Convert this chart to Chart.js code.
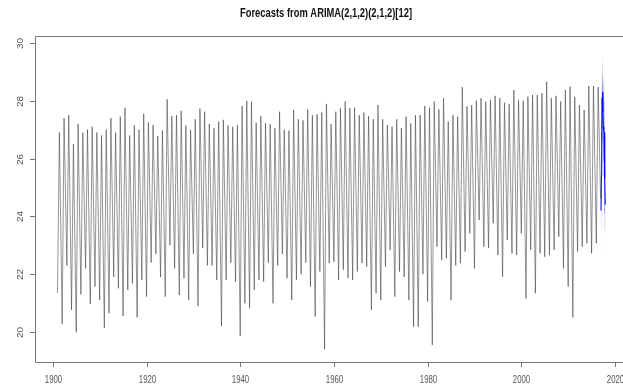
<!DOCTYPE html>
<html>
<head>
<meta charset="utf-8">
<script src="https://cdn.jsdelivr.net/npm/chart.js@4.4.1/dist/chart.umd.min.js"></script>
<style>
  html, body { margin: 0; padding: 0; background: #fff; }
  canvas { display: block; }
</style>
</head>
<body>
<canvas id="arimaCanvas" width="623" height="385"></canvas>
<script>
// --- data ---
const chartTitle = 'Forecasts from ARIMA(2,1,2)(2,1,2)[12]';
const firstYear = 1901;

// yearly high (around May) of the monthly series, 1901-2016
const yearPeaks = [
  26.9, 27.4, 27.5, 26.5, 27.2, 26.9, 27.0, 27.1, 26.9, 26.8, 27.0, 27.4, 26.9, 27.45, 27.75, 26.8, 27.15, 27.0, 27.55, 27.25,
  27.16, 26.78, 26.97, 28.05, 27.47, 27.5, 27.65, 27.14, 26.99, 27.36, 27.73, 27.62, 27.2, 27.05, 27.28, 27.34, 27.14, 27.1, 27.15, 27.82,
  27.99, 27.97, 27.24, 27.47, 27.22, 27.19, 27.05, 27.62, 27.0, 26.97, 27.68, 27.36, 27.32, 27.7, 27.5, 27.53, 27.59, 27.89, 27.19, 27.62,
  27.74, 27.97, 27.74, 27.76, 27.5, 27.59, 27.47, 27.36, 27.85, 27.36, 27.16, 27.1, 27.36, 27.05, 27.45, 27.22, 27.5, 27.5, 27.82, 27.76,
  27.97, 27.7, 28.09, 27.28, 27.5, 27.45, 28.47, 27.8, 27.85, 28.0, 28.09, 27.97, 28.03, 28.17, 28.09, 27.93, 27.89, 28.37, 28.03, 28.0,
  28.14, 28.2, 28.2, 28.26, 28.66, 28.09, 28.17, 27.97, 28.37, 28.49, 28.14, 27.85, 27.68, 28.51, 28.51, 28.47
];

// yearly low (January) of the monthly series, 1901-2016
const yearTroughs = [
  21.35, 20.28, 22.3, 20.76, 19.99, 21.3, 22.2, 20.97, 21.57, 21.1, 20.14, 20.65, 21.9, 21.51, 20.55, 21.45, 21.68, 20.5, 21.8, 21.22,
  22.4, 22.7, 21.9, 21.22, 23.0, 22.2, 21.28, 21.86, 21.1, 22.7, 20.9, 22.9, 22.3, 22.3, 21.8, 20.2, 21.8, 22.4, 21.74, 19.86,
  20.99, 20.82, 21.45, 21.8, 21.74, 22.4, 20.99, 22.3, 22.7, 21.86, 21.1, 21.8, 22.0, 22.4, 21.57, 20.53, 22.09, 19.41, 22.38, 22.43,
  21.8, 22.15, 21.86, 21.8, 22.09, 22.38, 22.26, 20.76, 21.34, 21.1, 22.26, 22.84, 21.22, 22.09, 21.9, 21.1, 20.18, 20.18, 22.0, 21.05,
  19.55, 22.95, 22.49, 22.55, 21.1, 22.3, 22.38, 22.78, 23.41, 22.2, 23.87, 22.95, 22.9, 23.76, 22.66, 21.91, 23.18, 22.72, 22.66, 23.41,
  21.16, 22.84, 21.34, 22.72, 22.6, 22.66, 22.84, 23.3, 22.2, 21.57, 20.5, 22.78, 22.95, 23.07, 22.72, 23.07
];
const lastObserved = 24.6; // Dec 2016

// 12-month forecast, Jan-Dec 2017
const forecastMean = [24.2, 25.4, 27.0, 28.1, 28.3, 27.6, 27.1, 27.0, 26.9, 26.4, 25.3, 24.4];
const forecastHi80 = [24.9, 26.2, 27.8, 29.0, 29.3, 28.6, 28.1, 28.1, 28.0, 27.5, 26.5, 25.6];
const forecastLo80 = [23.5, 24.6, 26.2, 27.2, 27.3, 26.6, 26.1, 25.9, 25.8, 25.3, 24.1, 23.2];
const forecastHi95 = [25.3, 26.6, 28.3, 29.5, 29.8, 29.2, 28.7, 28.6, 28.6, 28.1, 27.1, 26.2];
const forecastLo95 = [22.3, 24.2, 25.7, 26.7, 26.8, 26.0, 25.5, 25.4, 25.2, 24.7, 23.5, 22.6];

const xTicks = [1900, 1920, 1940, 1960, 1980, 2000, 2020];
const yTicks = [20, 22, 24, 26, 28, 30];

// --- build point lists ---
const peakOffset = 0.4; // peak month sits ~May
const observed = [];
yearPeaks.forEach((p, i) => {
  const yr = firstYear + i;
  observed.push({ x: yr, y: yearTroughs[i] });
  observed.push({ x: yr + peakOffset, y: p });
});
observed.push({ x: 2016 + 11 / 12, y: lastObserved });

const monthly = arr => arr.map((v, m) => ({ x: 2017 + m / 12, y: v }));

// R-style axes, box and title drawn on top
const rStylePlot = {
  id: 'rStylePlot',
  afterDraw(chart) {
    const { ctx, chartArea: a, scales: { x, y } } = chart;
    ctx.save();
    ctx.strokeStyle = '#777';
    ctx.lineWidth = 1;

    // box: right edge lies outside the picture
    ctx.beginPath();
    ctx.moveTo(chart.width, a.top + 0.5);
    ctx.lineTo(a.left + 0.5, a.top + 0.5);
    ctx.lineTo(a.left + 0.5, a.bottom + 0.5);
    ctx.lineTo(chart.width, a.bottom + 0.5);
    ctx.stroke();

    // x ticks + labels
    ctx.fillStyle = '#555';
    ctx.font = '10px "Liberation Sans", Arial, sans-serif';
    ctx.textAlign = 'center';
    ctx.textBaseline = 'middle';
    xTicks.forEach(t => {
      const px = Math.round(x.getPixelForValue(t)) + 0.5;
      ctx.beginPath();
      ctx.moveTo(px, a.bottom);
      ctx.lineTo(px, a.bottom + 5);
      ctx.stroke();
      ctx.save();
      ctx.translate(px, a.bottom + 18);
      ctx.scale(0.78, 1);
      ctx.fillText(String(t), 0, 0);
      ctx.restore();
    });

    // y ticks + rotated labels
    yTicks.forEach(t => {
      const py = Math.round(y.getPixelForValue(t)) + 0.5;
      ctx.beginPath();
      ctx.moveTo(a.left, py);
      ctx.lineTo(a.left - 5, py);
      ctx.stroke();
      ctx.save();
      ctx.translate(a.left - 14, py);
      ctx.rotate(-Math.PI / 2);
      ctx.scale(1, 0.85);
      ctx.fillText(String(t), 0, 0);
      ctx.restore();
    });

    // title
    ctx.fillStyle = '#111';
    ctx.font = 'bold 12px "Liberation Sans", Arial, sans-serif';
    ctx.save();
    ctx.translate(326, 14);
    const w = ctx.measureText(chartTitle).width;
    ctx.scale(172 / w, 1);
    ctx.fillText(chartTitle, 0, 0);
    ctx.restore();

    ctx.restore();
  }
};

const ctx = document.getElementById('arimaCanvas').getContext('2d');
new Chart(ctx, {
  type: 'line',
  data: {
    datasets: [
      { label: 'observed', data: observed, borderColor: '#3a3a3a', borderWidth: 0.55, fill: false },
      { label: 'forecast', data: monthly(forecastMean), borderColor: '#0000ff', borderWidth: 1, fill: false },
      { label: 'hi80', data: monthly(forecastHi80), borderWidth: 0, backgroundColor: '#8e97d6', fill: 3 },
      { label: 'lo80', data: monthly(forecastLo80), borderWidth: 0, fill: false },
      { label: 'hi95', data: monthly(forecastHi95), borderWidth: 0, backgroundColor: '#d4d8ee', fill: 5 },
      { label: 'lo95', data: monthly(forecastLo95), borderWidth: 0, fill: false }
    ]
  },
  options: {
    responsive: false,
    animation: false,
    devicePixelRatio: 1,
    layout: { padding: { left: 35, top: 36, right: 0, bottom: 23 } },
    elements: { point: { radius: 0 }, line: { tension: 0 } },
    plugins: {
      legend: { display: false },
      tooltip: { enabled: false },
      filler: { drawTime: 'beforeDatasetsDraw' }
    },
    scales: {
      x: { type: 'linear', min: 1896.2, max: 2021.7, display: false },
      y: { type: 'linear', min: 18.96, max: 30.24, display: false }
    }
  },
  plugins: [rStylePlot]
});
</script>
</body>
</html>
